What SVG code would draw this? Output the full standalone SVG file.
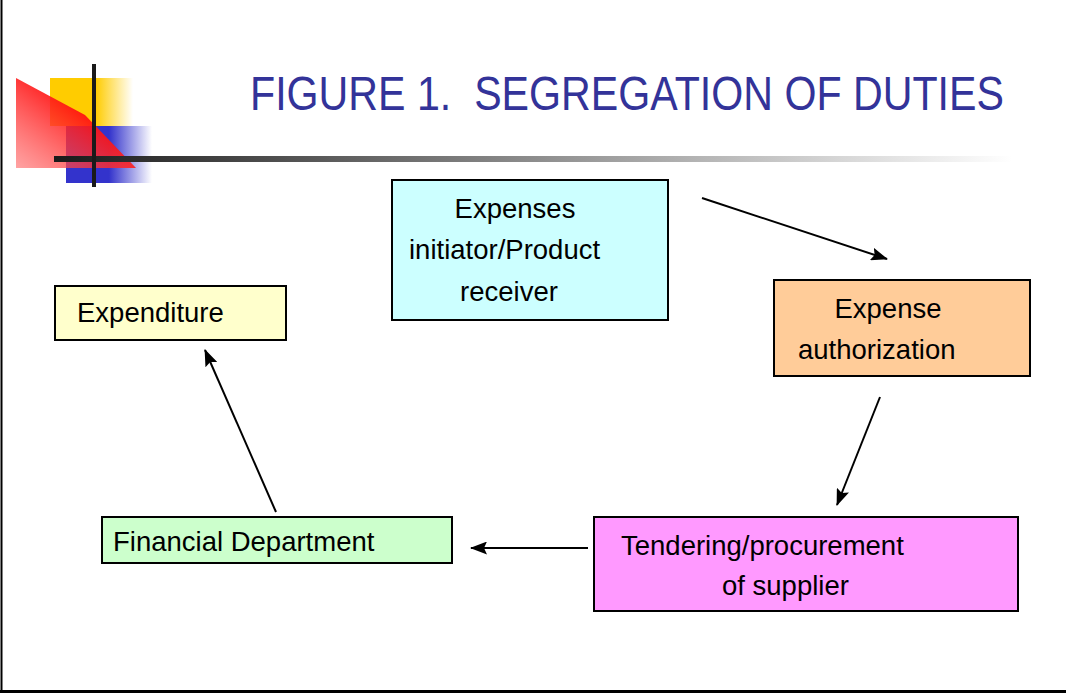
<svg xmlns="http://www.w3.org/2000/svg" width="1066" height="694" viewBox="0 0 1066 694">
<defs>
<style>
.box{stroke:#000;stroke-width:2}
.t{font-family:"Liberation Sans",Arial,sans-serif;font-size:27.5px;fill:#000}
.c{stroke:#000;stroke-width:2;fill:none;marker-end:url(#ah)}
</style>
<marker id="ah" markerWidth="17" markerHeight="13" refX="16" refY="6.5" orient="auto" markerUnits="userSpaceOnUse">
<path d="M0,0 L17,6.5 L0,13 L3,6.5 Z" fill="#000"/>
</marker>
<linearGradient id="gline" x1="0" x2="1" y1="0" y2="0">
<stop offset="0" stop-color="#1a1a1a"/>
<stop offset="1" stop-color="#ffffff"/>
</linearGradient>
<linearGradient id="gy" x1="0" x2="1" y1="0" y2="0">
<stop offset="0" stop-color="#ffcc00"/>
<stop offset="0.55" stop-color="#ffcc00"/>
<stop offset="1" stop-color="#ffffff"/>
</linearGradient>
<linearGradient id="gb" x1="0" x2="1" y1="0" y2="0">
<stop offset="0" stop-color="#3333cc"/>
<stop offset="0.5" stop-color="#3333cc"/>
<stop offset="1" stop-color="#ffffff"/>
</linearGradient>
<linearGradient id="gr" x1="1" x2="0" y1="0" y2="1">
<stop offset="0.3" stop-color="#ff0000"/>
<stop offset="1" stop-color="#ff6666" stop-opacity="0.6"/>
</linearGradient>
</defs>
<rect width="1066" height="694" fill="#fff"/>
<g id="frame">
<line x1="1.5" y1="0" x2="1.5" y2="692" stroke="#000" stroke-width="2"/>
<line x1="0" y1="691.5" x2="1066" y2="691.5" stroke="#000" stroke-width="3"/>
</g>
<g id="logo">
<rect x="50" y="78" width="83" height="48" fill="url(#gy)"/>
<rect x="66" y="126" width="86" height="57" fill="url(#gb)"/>
<polygon points="16,78 85,115 136,168 16,168" fill="url(#gr)"/>
<rect x="54" y="156" width="958" height="6" fill="url(#gline)"/>
<rect x="92" y="64" width="4" height="123" fill="#1a1a1a"/>
</g>
<text id="title" transform="translate(250,110) scale(0.84,1)" x="0" y="0" xml:space="preserve" font-family="Liberation Sans,Arial,sans-serif" font-size="49" fill="#333399">FIGURE 1.  SEGREGATION OF DUTIES</text>
<g id="initiator">
<rect class="box" x="392" y="180" width="276" height="140" fill="#ccffff"/>
<text class="t" x="515" y="218" text-anchor="middle">Expenses</text>
<text class="t" x="409" y="259">initiator/Product</text>
<text class="t" x="509" y="301" text-anchor="middle">receiver</text>
</g>
<g id="authorization">
<rect class="box" x="774" y="280" width="256" height="96" fill="#ffcc99"/>
<text class="t" x="888" y="318" text-anchor="middle">Expense</text>
<text class="t" x="798" y="359">authorization</text>
</g>
<g id="tendering">
<rect class="box" x="594" y="517" width="424" height="94" fill="#ff99ff"/>
<text class="t" x="621" y="555">Tendering/procurement</text>
<text class="t" x="722" y="595">of supplier</text>
</g>
<g id="financial">
<rect class="box" x="102" y="517" width="350" height="46" fill="#ccffcc"/>
<text class="t" x="113" y="551">Financial Department</text>
</g>
<g id="expenditure">
<rect class="box" x="55" y="286" width="231" height="54" fill="#ffffcc"/>
<text class="t" x="77" y="322">Expenditure</text>
</g>
<g id="connectors">
<line class="c" x1="702" y1="198" x2="887" y2="259"/>
<line class="c" x1="880" y1="397" x2="837" y2="505"/>
<line class="c" x1="588" y1="548" x2="471" y2="548"/>
<line class="c" x1="276" y1="512" x2="205" y2="350"/>
</g>
</svg>
